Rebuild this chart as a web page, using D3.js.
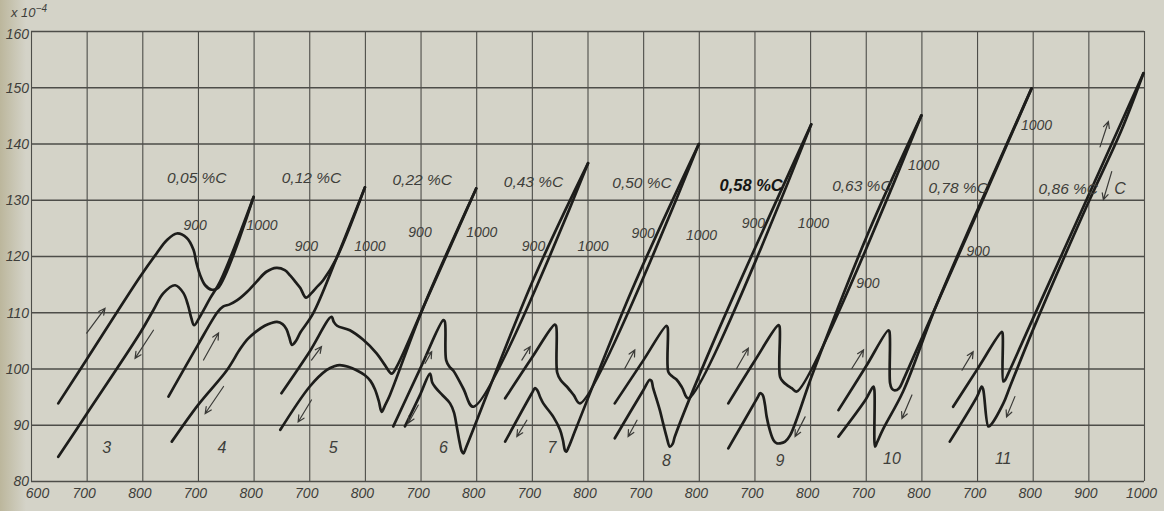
<!DOCTYPE html>
<html>
<head>
<meta charset="utf-8">
<script src="https://cdn.jsdelivr.net/npm/d3@7"></script>
<style>
  html, body { margin: 0; padding: 0; background: #d4d3c8; }
  svg { display: block; }
  text { font-family: "Liberation Sans", "DejaVu Sans", sans-serif; font-style: italic; }
</style>
</head>
<body>
<svg id="chart" width="1164" height="511"></svg>
<script>
// Dilatometer curves (length change, x10^-4) of nine carbon steels.
// The temperature axis is one long strip of 100-degree cells; every sample
// is shifted 200 degrees to the right of the previous one.

const xTickLabels = [600, 700, 800, 700, 800, 700, 800, 700, 800, 700, 800,
                     700, 800, 700, 800, 700, 800, 700, 800, 900, 1000];
const yTickValues = [80, 90, 100, 110, 120, 130, 140, 150, 160];
const sampleNumbers = [3, 4, 5, 6, 7, 8, 9, 10, 11];
const carbonLabels = ["0,05 %C", "0,12 %C", "0,22 %C", "0,43 %C", "0,50 %C",
                      "0,58 %C", "0,63 %C", "0,78 %C", "0,86 %C"];
const sampleShift = [0, 200, 400, 600, 800, 1000, 1200, 1400, 1600];

// [temperature °C, length change] — heating (↑) and cooling (↓) branches
const heating3 = [[649,93.8],[700,101.6],[796,116.3],[826,120.5],[844,122.8],[862,124.0],[880,123.2],[892,121.1],[897,118.9],[904,116.6],[913,114.8],[925,114.0],[936,114.3],[1000,130.5]];
const cooling3 = [[649,84.3],[700,91.9],[796,106.3],[820,110.4],[838,113.4],[859,114.8],[874,113.4],[882,111.3],[888,109.0],[893,107.7],[904,109.3],[922,112.5],[940,115.5],[1000,130.5]];

const heating4 = [[647,95.0],[700,104.2],[735,110.0],[745,111.0],[757,111.4],[770,112.1],[788,113.6],[806,115.5],[823,117.2],[841,117.9],[856,117.5],[866,116.5],[876,115.3],[884,114.3],[894,112.6],[904,113.4],[912,114.3],[925,115.7],[949,119.6],[1000,132.2]];
const cooling4 = [[653,87.0],[700,93.5],[752,99.7],[776,103.5],[790,105.3],[805,106.6],[820,107.6],[832,108.1],[842,108.3],[852,107.9],[859,107.0],[864,105.6],[869,104.2],[876,104.9],[884,106.4],[907,109.8],[949,119.6],[1000,132.2]];

const heating5 = [[650,95.6],[700,102.9],[740,109.2],[744,108.3],[750,107.6],[773,106.8],[797,105.1],[821,102.7],[836,100.6],[848,99.1],[857,100.3],[905,110.9],[1000,132.0]];
const cooling5 = [[648,89.1],[701,96.8],[731,99.7],[745,100.4],[755,100.6],[770,100.3],[785,99.7],[800,98.8],[810,97.8],[818,96.3],[825,94.2],[830,92.3],[836,93.4],[845,95.3],[905,110.9],[1000,132.0]];

const heating6 = [[651,89.7],[700,100.1],[741,108.6],[743.5,108.4],[746,101.5],[752,100.3],[759,99.6],[777,96.4],[795,93.2],[1001,136.5]];
const cooling6 = [[672,89.7],[700,95.5],[717,99.1],[721,97.5],[727,96.6],[740,95.2],[753,93.8],[760,92.2],[765,89.7],[770,87.0],[774,85.3],[777,84.9],[782,86.0],[900,115.2],[1001,136.5]];

const heating7 = [[652,94.7],[700,101.9],[741,107.8],[743.5,107.6],[745.5,99.3],[752,97.9],[762.7,96.8],[775,95.3],[786.6,93.8],[1000,139.9]];
const cooling7 = [[652,87.0],[700,95.6],[705.7,96.5],[710,96.1],[715,94.9],[720.6,93.8],[738.6,91.4],[750.6,89.1],[756,87.2],[759.6,85.4],[762,85.2],[766,86.0],[780,89.5],[880,114.0],[1000,139.9]];

const heating8 = [[649,93.8],[700,101.4],[742,107.6],[744,107.3],[745.2,99.4],[751,98.7],[760.3,98.0],[770,96.6],[781.2,94.7],[1002,143.4]];
const cooling8 = [[649,87.6],[700,96.1],[712,98.0],[715,97.8],[718,96.5],[724,94.6],[730,92.6],[736,90.2],[742,87.9],[748,86.1],[753,86.6],[757,87.9],[824,104.2],[1002,143.4]];

const heating9 = [[653,93.8],[700,101.3],[743,107.7],[745,107.5],[746,98.5],[752,97.6],[758,97.1],[767,96.5],[776,95.9],[1000,145.0]];
const cooling9 = [[653,85.8],[706,94.9],[710,95.6],[714,95.4],[716,95.0],[719,93.5],[722,91.4],[728,88.9],[734,87.3],[740,86.7],[746,86.7],[755,87.0],[764,88.1],[805,99.2],[904,124.0],[1000,145.0]];

const heating10 = [[651,92.6],[700,100.3],[740.6,106.8],[742.5,106.6],[743.7,97.4],[747,96.4],[752,96.1],[760,96.5],[770,98.5],[998,149.8]];
const cooling10 = [[651,87.9],[700,94.5],[713.7,96.8],[715.5,96.2],[716.7,86.1],[720,86.8],[731.6,89.3],[767.5,96.0],[828,111.5],[998,149.8]];

const heating11 = [[657,93.2],[700,99.8],[744.4,106.5],[745.8,106.3],[747.2,97.7],[750,97.9],[756,99.1],[801,109.0],[900,130.7],[960,143.9],[999,152.5]];
const cooling11 = [[651,87.0],[700,95.0],[708.4,96.8],[711,96.3],[720.2,89.7],[724,89.9],[747.2,93.8],[759.3,96.8],[801,107.0],[900,129.5],[960,142.5],[999,152.5]];

// temperature marks written beside the curves [°C, length change]
const mark900  = [[895,125.5],[895,121.7],[899,124.3],[903,121.7],[900,124.0],[898,125.8],[904,115.2],[902,120.8], null];
const mark1000 = [[1015,125.5],[1009,121.7],[1010,124.3],[1010,121.7],[1005,123.7],[1006,125.8],[1004,136.2],[1007,143.3], null];
const carbonPos = [[898,133.9],[904,133.9],[903,133.5],[903,133.3],[898,133.1],[894,132.6],[893,132.6],[866,132.2],[864,132.0]];
const numberPos = [[736,86.0],[743,86.0],[743,85.9],[741,85.9],[736,85.9],[742,83.7],[746,83.7],[747,84.1],[747,84.1]];

// direction arrows [tail °C, tail value, head °C, head value]
const arrowsUp   = [[700,106.3,733,110.7],[710,101.5,737,106.3],[704,101.5,722,103.9],[708,100.9,720,103.0],[682,101.5,697,103.9],[667,100.0,685,103.3],[668,100.0,689,103.6],[675,100.0,696,103.3],[673,99.7,693,103.0]];
const arrowsDown = [[820,106.8,787,101.8],[746,96.8,713,92.0],[704,94.4,680,90.5],[696,93.5,678,90.3],[691,90.8,673,87.9],[689,90.8,673,87.9],[791,91.4,773,87.9],[783,95.3,765,91.1],[768,95.0,753,91.4]];
const lastUp = [921,139.4,936,143.9];
const lastDown = [942,135.0,927,130.0];
const lastNote = [957,132.0];

const heatingCurves = [heating3, heating4, heating5, heating6, heating7, heating8, heating9, heating10, heating11];
const coolingCurves = [cooling3, cooling4, cooling5, cooling6, cooling7, cooling8, cooling9, cooling10, cooling11];

const W = 1164, H = 511;
const plotLeft = 31, plotRight = 1144, plotTop = 31, plotBottom = 481;

const svg = d3.select("#chart");

// paper tone, a little darker towards the bound edge
const defs = svg.append("defs");
const grad = defs.append("linearGradient").attr("id", "edge").attr("x1", 0).attr("x2", 1);
grad.append("stop").attr("offset", 0).attr("stop-color", "#a89f78").attr("stop-opacity", 0.55);
grad.append("stop").attr("offset", 1).attr("stop-color", "#a89f78").attr("stop-opacity", 0);
svg.append("rect").attr("width", W).attr("height", H).attr("fill", "#d4d3c8");
svg.append("rect").attr("width", 26).attr("height", H).attr("fill", "url(#edge)");

const xPositions = d3.range(600, 2601, 100);
const x = d3.scaleLinear().domain([600, 2600]).range([plotLeft, plotRight]);
const y = d3.scaleLinear().domain([80, 160]).range([plotBottom, plotTop]);

const ink = "#1d1d1b";
const gridInk = "#4d4d49";
const textInk = "#3e3e3a";

// vertical grid + bottom labels
const gx = svg.append("g").attr("transform", `translate(0,${plotBottom})`)
  .call(d3.axisBottom(x).tickValues(xPositions)
    .tickFormat((d, i) => xTickLabels[i])
    .tickSize(-(plotBottom - plotTop)).tickPadding(7));
gx.select(".domain").remove();
gx.selectAll("line").attr("stroke", gridInk).attr("stroke-width", 1.1);
gx.selectAll("text").attr("font-family", null).attr("font-size", 14)
  .attr("fill", textInk).attr("dx", (d, i) => i === 0 ? 6 : -3);

// horizontal grid + left labels
const gy = svg.append("g").attr("transform", `translate(${plotLeft},0)`)
  .call(d3.axisLeft(y).tickValues(yTickValues)
    .tickSize(-(plotRight - plotLeft)).tickPadding(2));
gy.select(".domain").remove();
gy.selectAll("line").attr("stroke", gridInk).attr("stroke-width", 1.7);
gy.selectAll("text").attr("font-family", null).attr("font-size", 14).attr("fill", textInk)
  .attr("dy", d => d === 160 ? "0.55em" : "0.35em");

// unit note
const unit = svg.append("text").attr("x", 11).attr("y", 17).attr("font-size", 13).attr("fill", textInk);
unit.append("tspan").text("x 10");
unit.append("tspan").attr("dy", -5).attr("font-size", 10).text("−4");

// curves
sampleNumbers.forEach((n, i) => {
  const shift = sampleShift[i];
  const line = d3.line()
    .x(d => x(d[0] + shift))
    .y(d => y(d[1]))
    .curve(d3.curveCatmullRom.alpha(0.5));
  [coolingCurves[i], heatingCurves[i]].forEach(c => {
    svg.append("path").attr("d", line(c))
      .attr("fill", "none").attr("stroke", ink).attr("stroke-width", 2.7)
      .attr("stroke-linejoin", "round").attr("stroke-linecap", "round");
  });
});

// arrows
function arrow(a, shift) {
  const x1 = x(a[0] + shift), y1 = y(a[1]), x2 = x(a[2] + shift), y2 = y(a[3]);
  const ang = Math.atan2(y2 - y1, x2 - x1);
  const L = 7, spread = 0.45;
  const h1 = [x2 - L * Math.cos(ang - spread), y2 - L * Math.sin(ang - spread)];
  const h2 = [x2 - L * Math.cos(ang + spread), y2 - L * Math.sin(ang + spread)];
  svg.append("path")
    .attr("d", `M${x1},${y1}L${x2},${y2}M${h1[0]},${h1[1]}L${x2},${y2}L${h2[0]},${h2[1]}`)
    .attr("fill", "none").attr("stroke", "#3a3a37").attr("stroke-width", 1.2)
    .attr("stroke-linecap", "round");
}
sampleNumbers.forEach((n, i) => {
  arrow(arrowsUp[i], sampleShift[i]);
  arrow(arrowsDown[i], sampleShift[i]);
});
arrow(lastUp, sampleShift[8]);
arrow(lastDown, sampleShift[8]);
svg.append("text").attr("x", x(lastNote[0] + sampleShift[8])).attr("y", y(lastNote[1]))
  .attr("dy", "0.35em").attr("text-anchor", "middle").attr("font-size", 16)
  .attr("fill", textInk).text("C");

// labels
sampleNumbers.forEach((n, i) => {
  const s = sampleShift[i];
  if (mark900[i]) {
    svg.append("text").attr("x", x(mark900[i][0] + s)).attr("y", y(mark900[i][1]))
      .attr("dy", "0.35em").attr("text-anchor", "middle").attr("font-size", 14)
      .attr("fill", textInk).text("900");
  }
  if (mark1000[i]) {
    svg.append("text").attr("x", x(mark1000[i][0] + s)).attr("y", y(mark1000[i][1]))
      .attr("dy", "0.35em").attr("text-anchor", "middle").attr("font-size", 14)
      .attr("fill", textInk).text("1000");
  }
  svg.append("text").attr("x", x(carbonPos[i][0] + s)).attr("y", y(carbonPos[i][1]))
    .attr("dy", "0.35em").attr("text-anchor", "middle")
    .attr("font-size", i === 5 ? 16.5 : 15.5)
    .attr("font-weight", i === 5 ? "bold" : null)
    .attr("fill", i === 5 ? "#161614" : textInk).text(carbonLabels[i]);
  svg.append("text").attr("x", x(numberPos[i][0] + s)).attr("y", y(numberPos[i][1]))
    .attr("dy", "0.35em").attr("text-anchor", "middle").attr("font-size", 16)
    .attr("fill", textInk).text(n);
});
</script>
</body>
</html>
